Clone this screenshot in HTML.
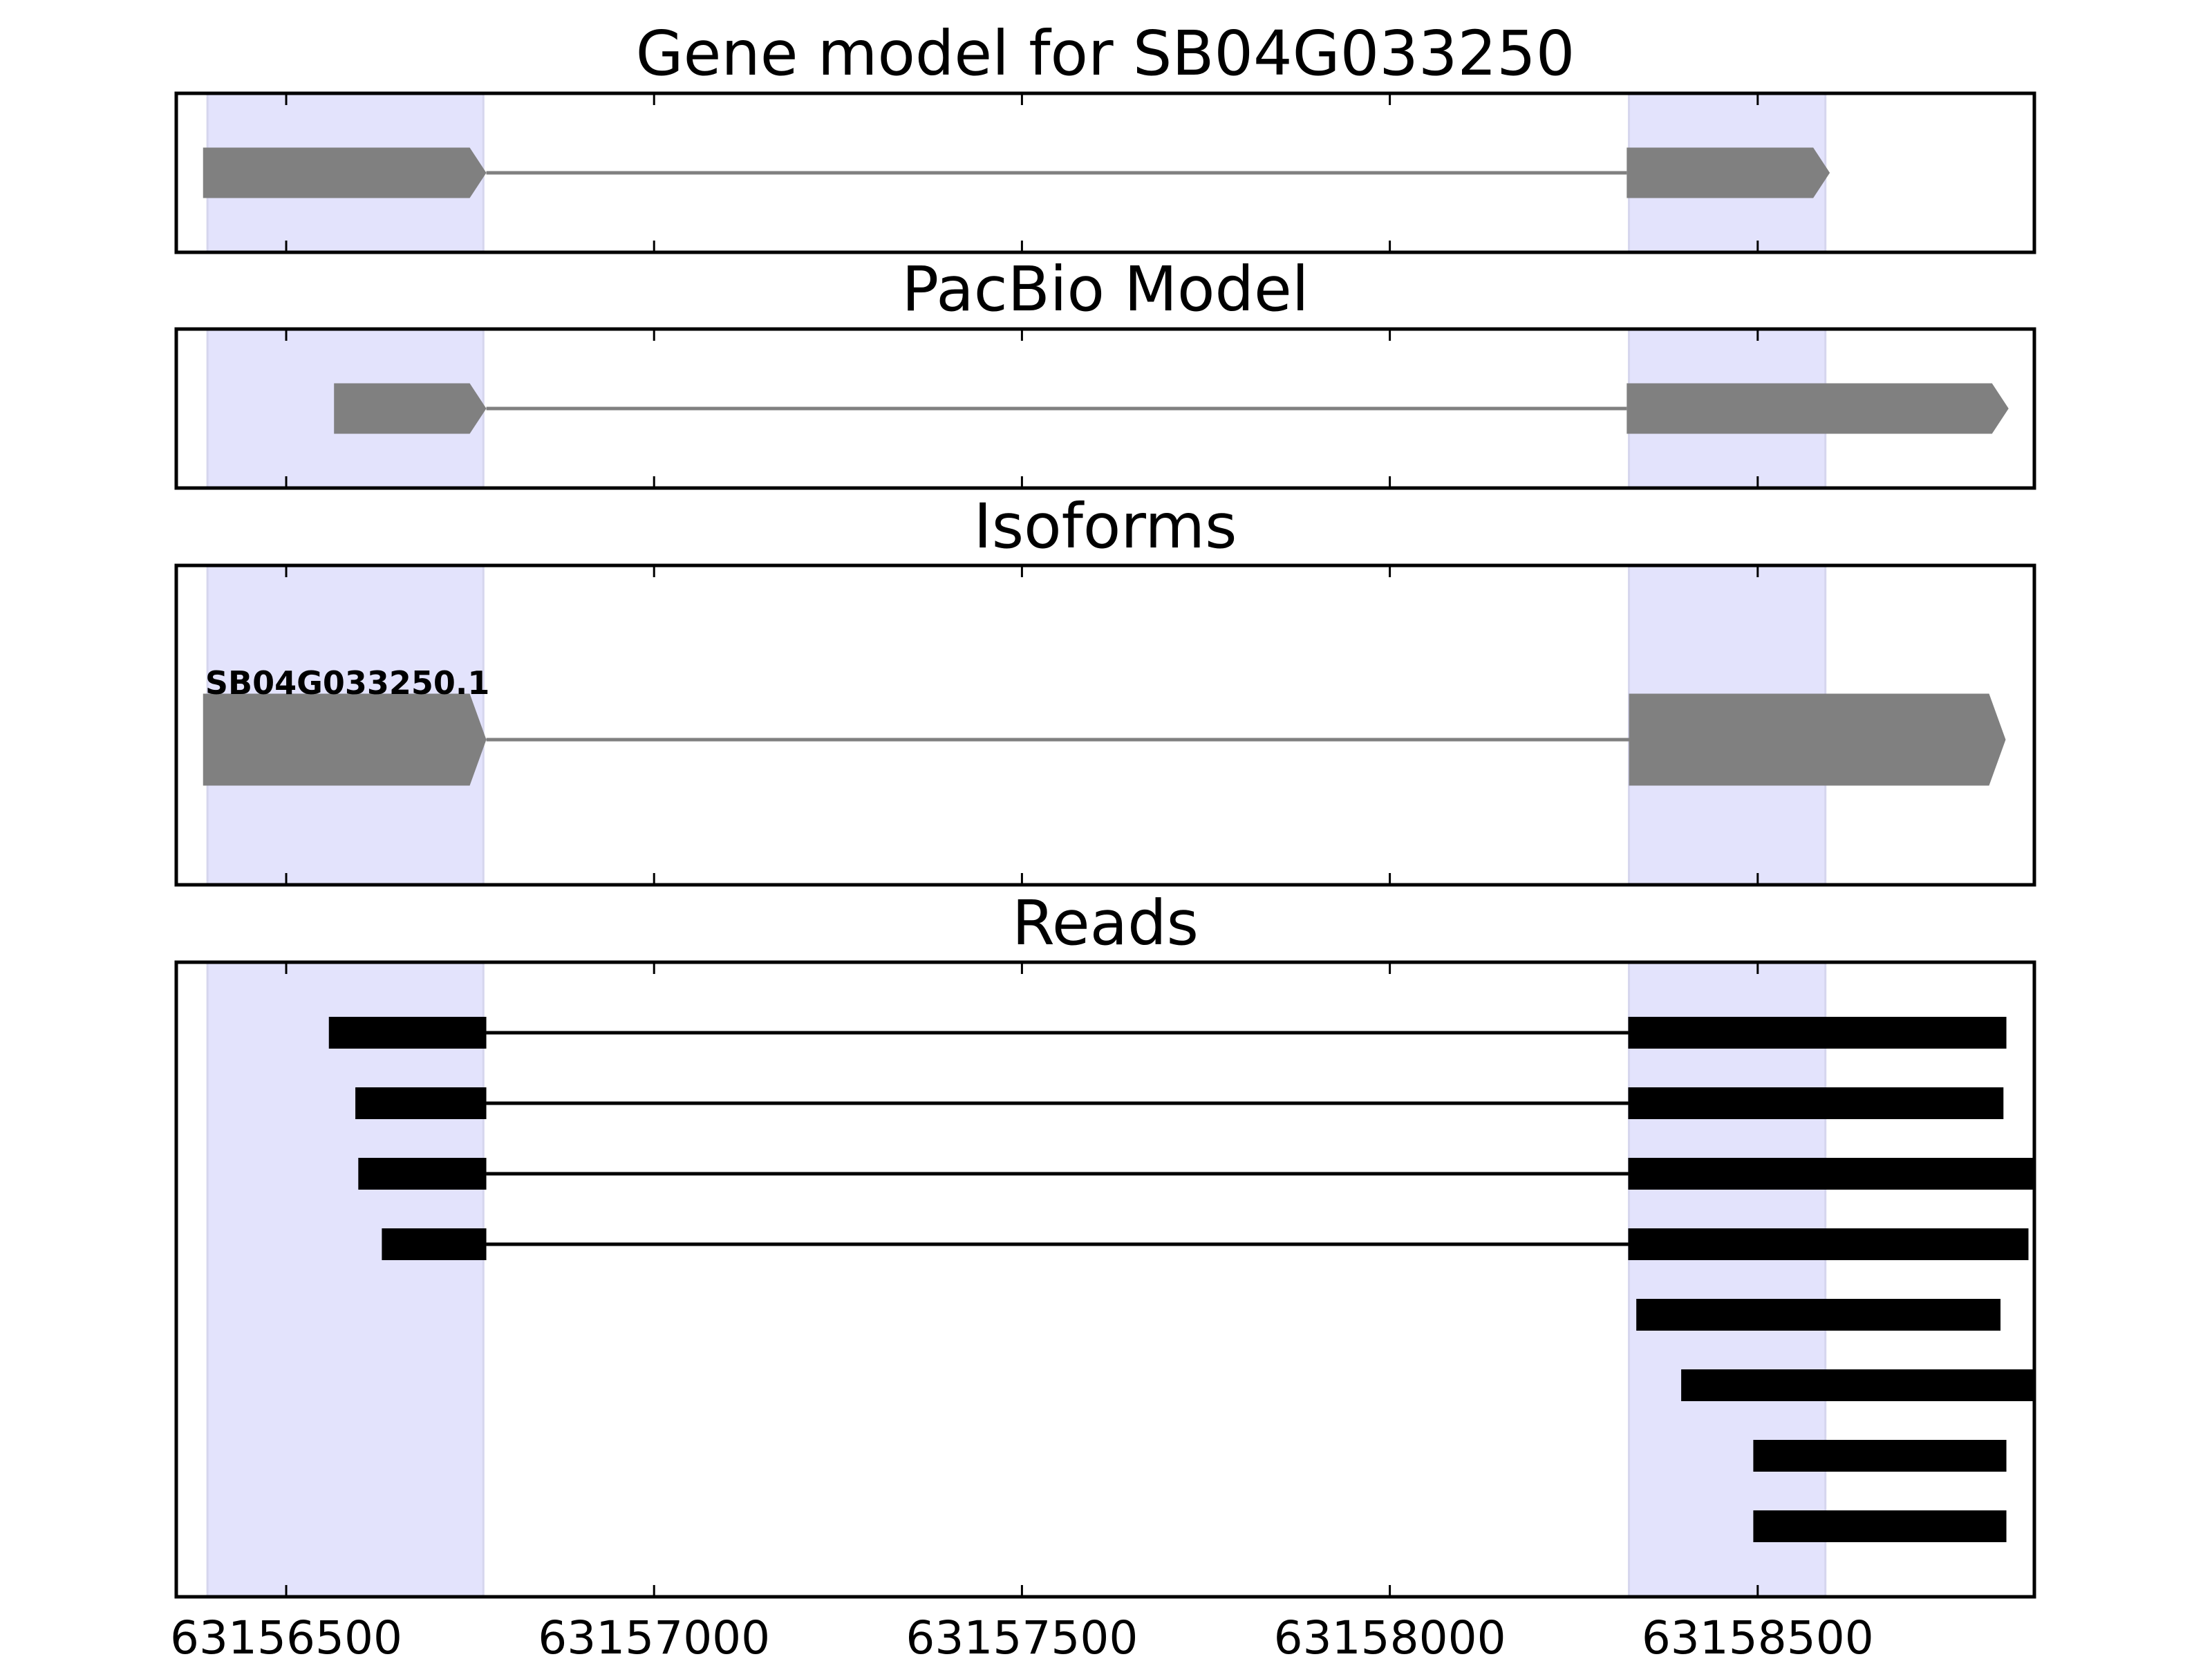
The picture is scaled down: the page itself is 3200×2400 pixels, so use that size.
<!DOCTYPE html>
<html><head><meta charset="utf-8"><style>
html,body{margin:0;padding:0;background:#fff}
svg{display:block}
text{font-family:"DejaVu Sans","Liberation Sans",sans-serif}
</style></head><body>
<svg id="chart" width="3200" height="2400" viewBox="0 0 3200 2400" xmlns="http://www.w3.org/2000/svg"></svg>
<script>
const xTicks = [63156500, 63157000, 63157500, 63158000, 63158500];
const shadeStarts = [63156393, 63158325];
const shadeEnds = [63156768, 63158592];
const geneExonStarts = [63156387, 63158322];
const geneExonEnds = [63156772, 63158598];
const pacbioExonStarts = [63156565, 63158322];
const pacbioExonEnds = [63156772, 63158841];
const isoExonStarts = [63156387, 63158325];
const isoExonEnds = [63156772, 63158837];
const isoLabels = ["SB04G033250.1"];
const readLeftStarts = [63156558, 63156594, 63156598, 63156630, null, null, null, null];
const readLeftEnds = [63156772, 63156772, 63156772, 63156772, null, null, null, null];
const readRightStarts = [63158324, 63158324, 63158324, 63158324, 63158335, 63158396, 63158494, 63158494];
const readRightEnds = [63158838, 63158834, 63158880, 63158868, 63158830, 63158880, 63158838, 63158838];

const NS = "http://www.w3.org/2000/svg";
const svg = document.getElementById('chart');
const L = 255, R = 2943, XMIN = 63156350.6, XMAX = 63158876;
function xs(v){ return L + (v - XMIN) / (XMAX - XMIN) * (R - L); }
function mk(tag, attrs, parent){ const e = document.createElementNS(NS, tag); for (const k in attrs) e.setAttribute(k, attrs[k]); (parent||svg).appendChild(e); return e; }

const panels = [
  {title:"Gene model for SB04G033250", top:135, bot:365, ty:108, name:"gene-model-panel"},
  {title:"PacBio Model", top:476, bot:706, ty:449, name:"pacbio-panel"},
  {title:"Isoforms", top:818, bot:1280, ty:792, name:"isoforms-panel"},
  {title:"Reads", top:1392, bot:2310, ty:1366, name:"reads-panel"}
];

function exonArrow(g, s, e, cy, h, color, name){
  const x1 = xs(s), x2 = xs(Math.min(e, XMAX + 200)), tip = 24;
  const p = mk('polygon', {points:`${x1},${cy-h/2} ${x2-tip},${cy-h/2} ${x2},${cy} ${x2-tip},${cy+h/2} ${x1},${cy+h/2}`, fill:color}, g);
  
  
}

panels.forEach((p, pi) => {
  const g = mk('g', {});
  
  
  const cp = mk('clipPath', {id:'clip'+pi}, g);
  mk('rect', {x:L, y:p.top, width:R-L, height:p.bot-p.top}, cp);
  const inner = mk('g', {'clip-path':`url(#clip${pi})`}, g);
  shadeStarts.forEach((s, i) => {
    const r = mk('rect', {x:xs(s), y:p.top, width:xs(shadeEnds[i])-xs(s), height:p.bot-p.top, fill:'#e3e3fc', stroke:'#d6d6ee', 'stroke-width':3}, inner);
    
    
  });
  const cy = (p.top + p.bot) / 2;
  if (pi === 0 || pi === 1) {
    const st = pi === 0 ? geneExonStarts : pacbioExonStarts;
    const en = pi === 0 ? geneExonEnds : pacbioExonEnds;
    mk('line', {x1:xs(en[0]), x2:xs(st[1]), y1:cy, y2:cy, stroke:'#808080', 'stroke-width':5}, inner);
    st.forEach((s, i) => exonArrow(inner, s, en[i], cy, 73, '#808080', 'exon-' + (i+1)));
  } else if (pi === 2) {
    const icy = 1070;
    mk('line', {x1:xs(isoExonEnds[0]), x2:xs(isoExonStarts[1]), y1:icy, y2:icy, stroke:'#808080', 'stroke-width':5}, inner);
    isoExonStarts.forEach((s, i) => exonArrow(inner, s, isoExonEnds[i], icy, 133, '#808080', 'isoform-exon-' + (i+1)));
    const t = mk('text', {x:xs(63156390), y:1004, 'font-size':46, 'font-weight':'bold', fill:'#000'}, g);
    t.textContent = isoLabels[0];
    
    
  } else {
    readRightStarts.forEach((rs, i) => {
      const y = 1494 + i * 102;
      const rg = mk('g', {}, inner);
      
      
      if (readLeftStarts[i] !== null) {
        mk('line', {x1:xs(readLeftEnds[i]), x2:xs(rs), y1:y, y2:y, stroke:'#000', 'stroke-width':5}, rg);
        mk('rect', {x:xs(readLeftStarts[i]), y:y-23, width:xs(readLeftEnds[i])-xs(readLeftStarts[i]), height:46, fill:'#000'}, rg);
      }
      mk('rect', {x:xs(rs), y:y-23, width:xs(readRightEnds[i])-xs(rs), height:46, fill:'#000'}, rg);
    });
  }
  xTicks.forEach(t => {
    const x = xs(t);
    mk('line', {x1:x, x2:x, y1:p.top, y2:p.top+17, stroke:'#000', 'stroke-width':3}, g);
    mk('line', {x1:x, x2:x, y1:p.bot, y2:p.bot-17, stroke:'#000', 'stroke-width':3}, g);
  });
  const fr = mk('rect', {x:L, y:p.top, width:R-L, height:p.bot-p.top, fill:'none', stroke:'#000', 'stroke-width':5}, g);
  
  
  const tt = mk('text', {x:(L+R)/2, y:p.ty, 'font-size':89, 'text-anchor':'middle', fill:'#000'}, g);
  tt.textContent = p.title;
  
  
});

xTicks.forEach(t => {
  const tl = mk('text', {x:xs(t), y:2392, 'font-size':66, 'text-anchor':'middle', fill:'#000'});
  tl.textContent = String(t);
  
  
});
</script>
</body></html>
